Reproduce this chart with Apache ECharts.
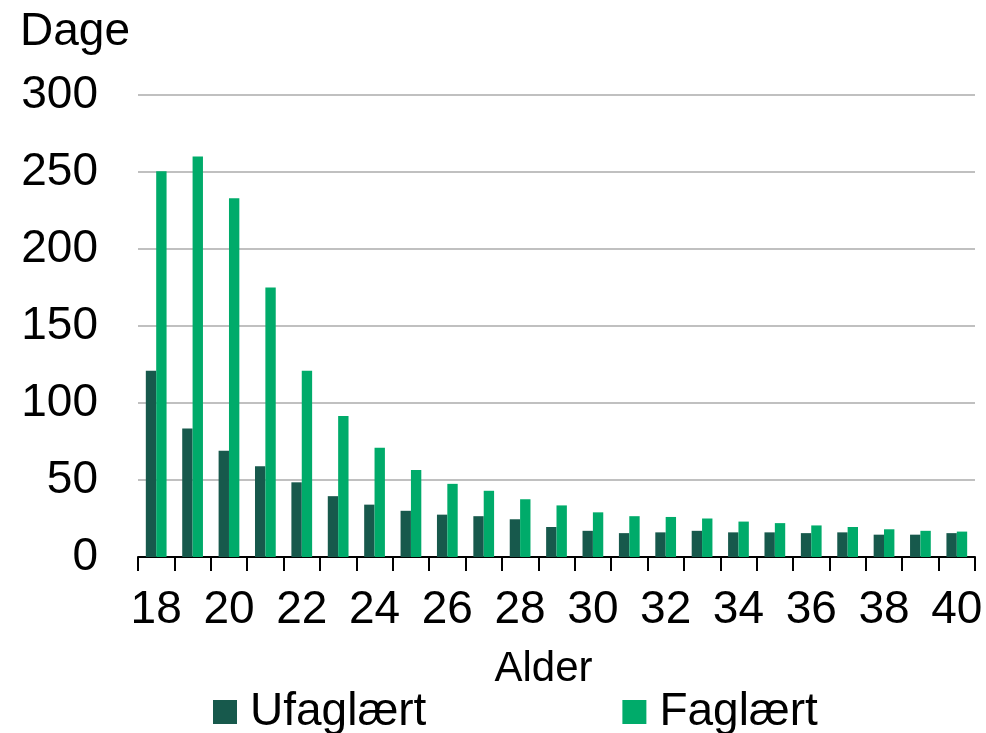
<!DOCTYPE html>
<html>
<head>
<meta charset="utf-8">
<script src="https://cdn.jsdelivr.net/npm/echarts@6/dist/echarts.min.js"></script>
<style>
  html, body { margin: 0; padding: 0; background: #fff; }
  #chart { width: 986px; height: 733px; }
</style>
</head>
<body>
<div id="chart"></div>
<script>
// Alder 18-40
const ages = ['18', '19', '20', '21', '22', '23', '24', '25', '26', '27', '28', '29',
  '30', '31', '32', '33', '34', '35', '36', '37', '38', '39', '40']
const ufaglaert = [121, 83.5, 69, 59, 48.5, 39.5, 34, 30, 27.5, 26.5, 24.5, 19.5,
  17, 15.5, 16, 17, 16, 16, 15.5, 16, 14.5, 14.5, 15.5]
const faglaert = [250.5, 260, 233, 175, 121, 91.5, 71, 56.5, 47.5, 43, 37.5, 33.5,
  29, 26.5, 26, 25, 23, 22, 20.5, 19.5, 18, 17, 16.5]
const yTicks = { min: 0, max: 300, interval: 50 }

const font = 'Liberation Sans, Arial, sans-serif'
const chart = echarts.init(document.getElementById('chart'))
chart.setOption({
  animation: false,
  textStyle: { fontFamily: font },
  graphic: [{
    type: 'text',
    left: 20,
    top: 9,
    style: { text: 'Dage', font: '46px ' + font, fill: '#000' }
  }],
  legend: {
    left: 213,
    top: 689,
    padding: 0,
    itemWidth: 24,
    itemHeight: 24,
    itemGap: 196,
    icon: 'rect',
    textStyle: { fontSize: 46, color: '#000', fontFamily: font, padding: [0, 0, 0, 8] },
    data: ['Ufaglært', 'Faglært']
  },
  grid: {
    left: 138,
    right: 11,
    top: 95,
    bottom: 176
  },
  xAxis: {
    type: 'category',
    data: ages,
    name: 'Alder',
    nameLocation: 'middle',
    nameGap: 91,
    nameTextStyle: { fontSize: 42, color: '#000', fontFamily: font, padding: [0, 26, 0, 0] },
    axisLine: { lineStyle: { color: '#000', width: 2 } },
    axisTick: { show: true, interval: 0, length: 14, lineStyle: { color: '#000', width: 2 } },
    axisLabel: { interval: 1, fontSize: 46, color: '#000', margin: 30, fontFamily: font }
  },
  yAxis: {
    type: 'value',
    min: yTicks.min,
    max: yTicks.max,
    interval: yTicks.interval,
    axisLine: { show: false },
    axisTick: { show: false },
    axisLabel: { fontSize: 46, color: '#000', margin: 40, fontFamily: font },
    splitLine: { lineStyle: { color: '#ababab', width: 1.5 } }
  },
  series: [
    {
      name: 'Ufaglært',
      type: 'bar',
      data: ufaglaert,
      barGap: '0%',
      barCategoryGap: '43%',
      itemStyle: { color: '#17594c' }
    },
    {
      name: 'Faglært',
      type: 'bar',
      data: faglaert,
      barGap: '0%',
      barCategoryGap: '43%',
      itemStyle: { color: '#00ab6a' }
    }
  ]
})
</script>
</body>
</html>
